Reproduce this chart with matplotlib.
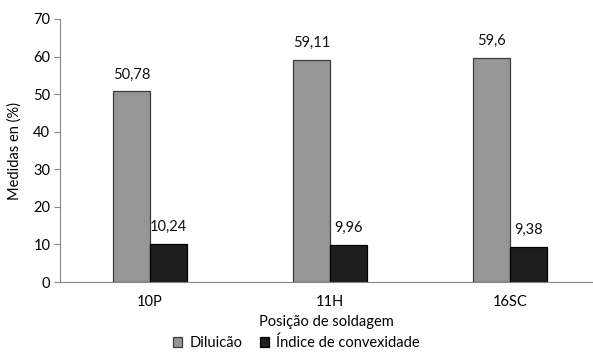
import numpy as np
import matplotlib.pyplot as plt

plt.rcParams['font.family'] = ['Lato', 'DejaVu Sans']

posicoes = ['10P', '11H', '16SC']
diluicao = [50.78, 59.11, 59.6]
convexidade = [10.24, 9.96, 9.38]
rotulos_dil = ['50,78', '59,11', '59,6']
rotulos_conv = ['10,24', '9,96', '9,38']

fig = plt.figure(figsize=(5.93, 3.52), dpi=100)
ax = fig.add_axes([60 / 593, 70 / 352, 533 / 593, 263 / 352])

x = np.arange(len(posicoes))
w = 0.205
b1 = ax.bar(x - w / 2, diluicao, w, color='#969696', edgecolor='#3c3c3c',
            linewidth=0.9, label='Diluicão')
b2 = ax.bar(x + w / 2, convexidade, w, color='#1e1e1e', edgecolor='#000000',
            linewidth=0.9, label='Índice de convexidade')

# valores por cima de cada barra
for rect, txt in zip(list(b1) + list(b2), rotulos_dil + rotulos_conv):
    ax.annotate(txt, (rect.get_x() + rect.get_width() / 2, rect.get_height()),
                xytext=(0, 7), textcoords='offset points', ha='center',
                va='bottom', fontsize=10.5, color='#111111')

ax.set_xlim(-0.5, 2.461)
ax.set_ylim(0, 70)
ax.set_yticks(range(0, 71, 10))
ax.set_xticks(x)
ax.set_xticklabels(posicoes)
ax.tick_params(axis='x', length=0, pad=9, labelsize=10.5)
ax.tick_params(axis='y', length=4, color='#868686', labelsize=10.5, pad=3)

for side in ['top', 'right']:
    ax.spines[side].set_visible(False)
for side in ['left', 'bottom']:
    ax.spines[side].set_color('#868686')

ax.set_xlabel('Posição de soldagem', fontsize=10.5, labelpad=5)
ax.set_ylabel('Medidas en (%)', fontsize=10.5, labelpad=8)

fig.legend(loc='center', bbox_to_anchor=(0.5, 0.026), ncol=2,
           frameon=False, fontsize=10.5, handlelength=0.6, handleheight=0.6,
           handletextpad=0.5, columnspacing=1.2, borderaxespad=0,
           borderpad=0)

fig.savefig('out.png', dpi=100)
